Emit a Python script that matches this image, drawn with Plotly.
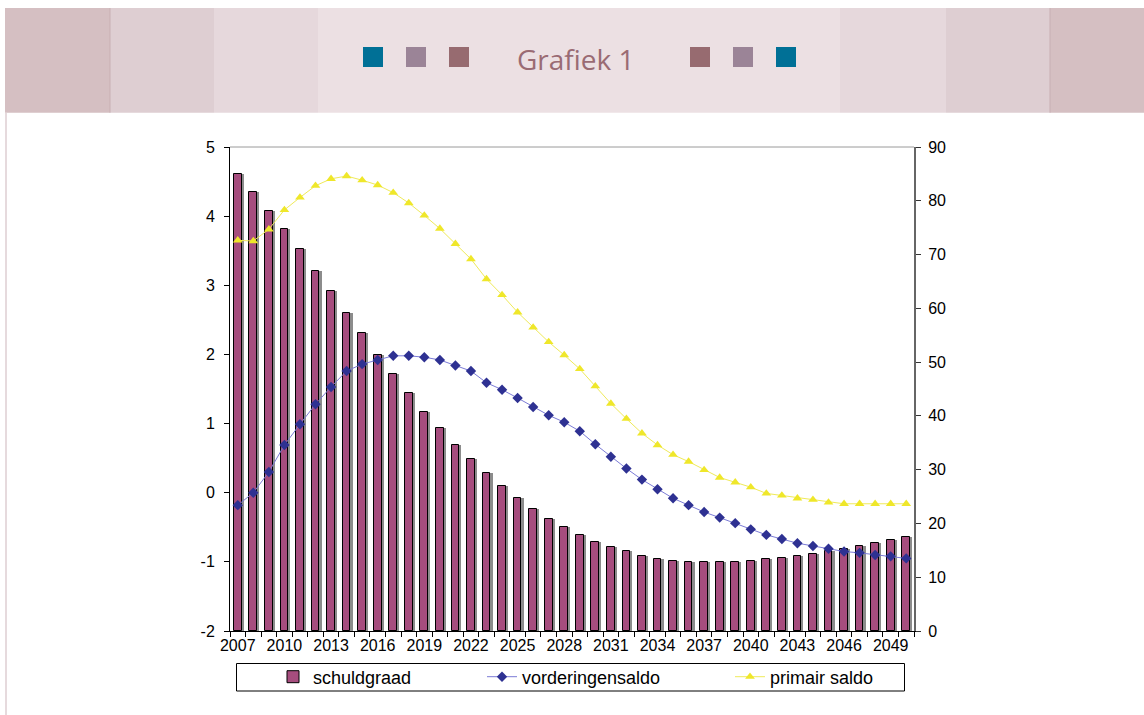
import plotly.graph_objects as go

# ---------------- data ----------------
years = list(range(2007, 2051))
schuldgraad = [85.0, 81.6, 78.1, 74.7, 71.0, 67.0, 63.3, 59.1, 55.4, 51.4,
               47.7, 44.3, 40.8, 37.7, 34.5, 31.9, 29.3, 26.9, 24.8, 22.7,
               20.8, 19.3, 17.9, 16.6, 15.6, 14.8, 13.9, 13.4, 13.1, 12.9,
               12.9, 12.9, 12.9, 13.1, 13.4, 13.6, 13.9, 14.4, 14.9, 15.3,
               15.8, 16.3, 16.9, 17.4]
vorderingensaldo = [-0.18, 0.00, 0.30, 0.69, 0.99, 1.28, 1.53, 1.76, 1.86, 1.92,
                    1.98, 1.98, 1.96, 1.92, 1.84, 1.76, 1.59, 1.49, 1.37, 1.24,
                    1.12, 1.02, 0.89, 0.70, 0.52, 0.35, 0.19, 0.05, -0.08, -0.18,
                    -0.28, -0.36, -0.44, -0.53, -0.61, -0.67, -0.73, -0.77, -0.81, -0.85,
                    -0.87, -0.90, -0.92, -0.95]
primair_saldo = [3.65, 3.64, 3.81, 4.09, 4.27, 4.44, 4.54, 4.58, 4.52, 4.45,
                 4.34, 4.19, 4.01, 3.82, 3.60, 3.38, 3.09, 2.86, 2.61, 2.39,
                 2.18, 1.99, 1.79, 1.54, 1.29, 1.07, 0.86, 0.69, 0.55, 0.45,
                 0.33, 0.22, 0.15, 0.08, -0.01, -0.04, -0.08, -0.10, -0.14, -0.16,
                 -0.16, -0.16, -0.16, -0.16]
x_tick_years = list(range(2007, 2051, 3))
left_ticks = [-2, -1, 0, 1, 2, 3, 4, 5]
right_ticks = list(range(0, 91, 10))
title_text = "Grafiek 1"

# ---------------- layout helpers ----------------
W, H = 1144, 715
L, R, T, B = 230, 914, 147, 631


def px(x):
    return (x - L) / (R - L)


def py(y):
    return (B - y) / (B - T)


FONT = "Arial, Liberation Sans, sans-serif"

fig = go.Figure()

# bar shadow
fig.add_trace(go.Bar(
    x=years, y=schuldgraad, width=0.5, offset=-0.25 + 0.14,
    marker=dict(color="#8c8c8c", line=dict(width=0)),
    showlegend=False, hoverinfo="skip", yaxis="y"))
# bars
fig.add_trace(go.Bar(
    x=years, y=schuldgraad, width=0.5, offset=-0.25, name="schuldgraad",
    marker=dict(color="#A64D7E", line=dict(color="black", width=1)),
    yaxis="y", legend="legend"))
fig.add_trace(go.Scatter(
    x=years, y=vorderingensaldo, mode="lines+markers", name="vorderingensaldo",
    line=dict(color="#7B7BD6", width=1),
    marker=dict(symbol="diamond", size=8, color="#2E3192"),
    yaxis="y2", legend="legend2"))
fig.add_trace(go.Scatter(
    x=years, y=primair_saldo, mode="lines+markers", name="primair saldo",
    line=dict(color="#EFEA5A", width=1),
    marker=dict(symbol="triangle-up", size=8.5, color="#EFE72A"),
    yaxis="y2", legend="legend3"))

shapes = []
# header stripes
stripes = [(5, 110, "#D5BFC2"), (110, 214, "#DECED2"), (214, 318, "#E6D8DC"),
           (318, 840, "#ECE0E3"), (840, 946, "#E6D8DC"), (946, 1050, "#DECED2"),
           (1050, 1144, "#D5BFC2")]
for x0, x1, c in stripes:
    shapes.append(dict(type="rect", xref="paper", yref="paper",
                       x0=px(x0), x1=px(x1), y0=py(112.7), y1=py(8),
                       fillcolor=c, line=dict(width=0), layer="below"))
for xl in (110, 1050):
    shapes.append(dict(type="line", xref="paper", yref="paper",
                       x0=px(xl), x1=px(xl), y0=py(112.7), y1=py(8),
                       line=dict(color="#C8AFB3", width=1)))
# header squares
sq = [(363, "#007096"), (406, "#9B8497"), (449, "#976B70"),
      (690, "#976B70"), (733, "#9B8497"), (776, "#007096")]
for x0, c in sq:
    shapes.append(dict(type="rect", xref="paper", yref="paper",
                       x0=px(x0), x1=px(x0 + 20), y0=py(67), y1=py(47),
                       fillcolor=c, line=dict(width=0)))
# left page line
shapes.append(dict(type="line", xref="paper", yref="paper",
                   x0=px(6), x1=px(6), y0=py(113), y1=py(715),
                   line=dict(color="#E6DADD", width=2)))
# top border of plot area
shapes.append(dict(type="line", xref="paper", yref="paper",
                   x0=0, x1=1, y0=1, y1=1, line=dict(color="#9a9a9a", width=1)))
# legend box
shapes.append(dict(type="rect", xref="paper", yref="paper",
                   x0=px(236.5), x1=px(904.5), y0=py(691), y1=py(663.5),
                   line=dict(color="black", width=1), fillcolor="rgba(0,0,0,0)"))

legend_common = dict(orientation="h", xanchor="left", yanchor="middle",
                     font=dict(family=FONT, size=18, color="black"),
                     bgcolor="rgba(0,0,0,0)", borderwidth=0)

fig.update_layout(
    width=W, height=H,
    margin=dict(l=L, r=W - R, t=T, b=H - B, pad=0),
    paper_bgcolor="white", plot_bgcolor="white",
    barmode="overlay",
    bargap=0,
    showlegend=True,
    legend=dict(x=px(273), y=py(677), **legend_common),
    legend2=dict(x=px(482), y=py(677), **legend_common),
    legend3=dict(x=px(730), y=py(677), **legend_common),
    xaxis=dict(
        range=[2006.5, 2050.5], tickmode="array", tickvals=x_tick_years,
        ticktext=[str(v) for v in x_tick_years], ticks="",
        showline=True, linecolor="black", linewidth=1,
        showgrid=False, zeroline=False,
        tickfont=dict(family=FONT, size=16, color="black"),
        minor=dict(tickmode="linear", tick0=2006.5, dtick=1, ticks="outside",
                   ticklen=5, tickcolor="black", tickwidth=1, showgrid=False),
    ),
    yaxis=dict(
        side="right", range=[0, 90], tickmode="array", tickvals=right_ticks,
        ticktext=[str(v) for v in right_ticks],
        ticks="outside", ticklen=5, tickcolor="#333", tickwidth=1,
        showline=True, linecolor="#666", linewidth=2,
        showgrid=False, zeroline=False,
        tickfont=dict(family=FONT, size=16, color="black"),
        ticklabelstandoff=4,
    ),
    yaxis2=dict(
        overlaying="y", side="left", range=[-2, 5], tickmode="array",
        tickvals=left_ticks, ticktext=[str(v) for v in left_ticks],
        ticks="outside", ticklen=5, tickcolor="black", tickwidth=1,
        showline=True, linecolor="black", linewidth=1,
        showgrid=False, zeroline=False,
        tickfont=dict(family=FONT, size=16, color="black"),
        ticklabelstandoff=6,
    ),
    shapes=shapes,
    annotations=[dict(text=title_text, xref="paper", yref="paper",
                      x=px(576), y=py(59), xanchor="center", yanchor="middle",
                      showarrow=False,
                      font=dict(family="Open Sans", size=28, color="#9A6B73"))],
)

fig.write_html("out.html",
               config={"displayModeBar": False},
               post_script="document.body.style.margin='0';document.body.style.overflow='hidden';")
